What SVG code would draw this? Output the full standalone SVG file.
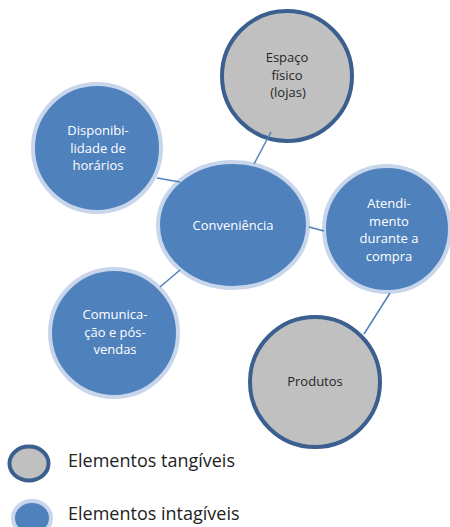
<svg xmlns="http://www.w3.org/2000/svg" width="450" height="527" viewBox="0 0 450 527">
<style>
.blue{fill:#4f81bd;stroke:#c8d6ec;stroke-width:4}
.gray{fill:#c0c0c0;stroke:#3b5f8e;stroke-width:4}
.t{font-family:"Open Sans","Liberation Sans",sans-serif;font-size:13px;text-anchor:middle}
.w{fill:#ffffff}
.d{fill:#262626}
.lg{font-family:"Open Sans","Liberation Sans",sans-serif;font-size:18px;fill:#222222}
.c{stroke:#4f81bd;stroke-width:1.5;fill:none}
</style>
<rect width="450" height="527" fill="#ffffff"/>
<g id="node-espaco">
<circle class="gray" cx="287" cy="76" r="65"/>
<text class="t d"><tspan x="287" y="62">Espaço</tspan><tspan x="287" y="80">físico</tspan><tspan x="288" y="97">(lojas)</tspan></text>
</g>
<g id="node-disponibilidade">
<circle class="blue" cx="97" cy="148" r="64"/>
<text class="t w"><tspan x="98" y="135">Disponibi-</tspan><tspan x="98" y="152.5">lidade de</tspan><tspan x="98" y="170">horários</tspan></text>
</g>
<g id="node-conveniencia">
<ellipse class="blue" cx="233" cy="225" rx="75" ry="63"/>
<text class="t w" x="233" y="230">Conveniência</text>
</g>
<g id="node-atendimento">
<circle class="blue" cx="387" cy="229" r="63"/>
<text class="t w"><tspan x="389" y="208">Atendi-</tspan><tspan x="389" y="225.5">mento</tspan><tspan x="389" y="243">durante a</tspan><tspan x="389" y="260.5">compra</tspan></text>
</g>
<g id="node-comunicacao">
<circle class="blue" cx="114" cy="333" r="64"/>
<text class="t w"><tspan x="115" y="319">Comunica-</tspan><tspan x="115" y="336.5">ção e pós-</tspan><tspan x="115" y="354">vendas</tspan></text>
</g>
<g id="node-produtos">
<circle class="gray" cx="315" cy="382" r="65"/>
<text class="t d" x="315" y="386">Produtos</text>
</g>
<g id="connectors">
<line class="c" x1="271" y1="132" x2="254" y2="164"/>
<line class="c" x1="157" y1="178" x2="180" y2="182"/>
<line class="c" x1="309" y1="227" x2="324" y2="231"/>
<line class="c" x1="160" y1="287" x2="180" y2="270"/>
<line class="c" x1="390" y1="293" x2="364" y2="334"/>
</g>
<g id="legend">
<ellipse class="gray" cx="29" cy="463.5" rx="19.5" ry="17"/>
<text class="lg" x="68" y="467">Elementos tangíveis</text>
<ellipse class="blue" cx="32" cy="518" rx="19" ry="17"/>
<text class="lg" x="68" y="520">Elementos intagíveis</text>
</g>
</svg>
